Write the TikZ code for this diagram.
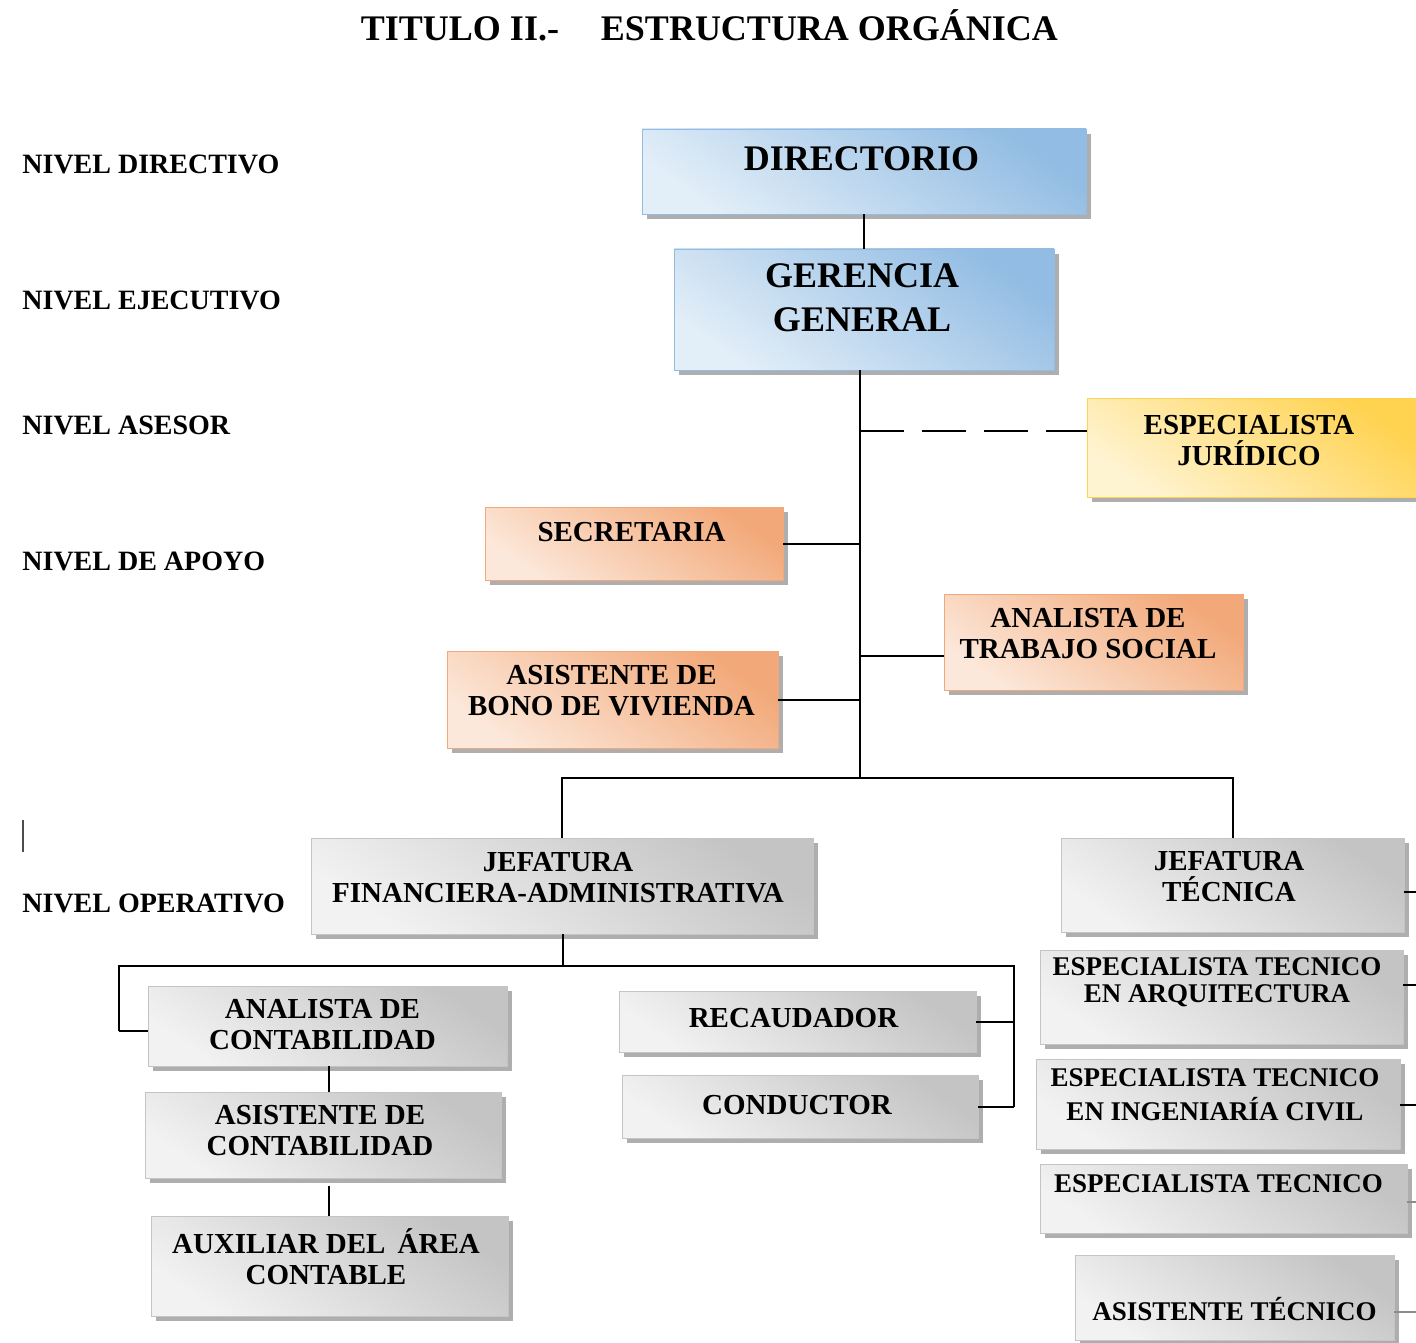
\documentclass[tikz,border=0pt]{standalone}
\usepackage{fontspec}
\setmainfont{Liberation Serif}
\usetikzlibrary{shadows}
\definecolor{bluD}{HTML}{92BCE3}
\definecolor{bluL}{HTML}{E2EEF8}
\definecolor{yelD}{HTML}{FFD24F}
\definecolor{yelL}{HTML}{FFF4D2}
\definecolor{oraD}{HTML}{F2A878}
\definecolor{oraL}{HTML}{FCE8DA}
\definecolor{gryD}{HTML}{C4C4C4}
\definecolor{gryL}{HTML}{F2F2F2}
\definecolor{shd}{HTML}{9A9A9A}
\tikzset{
  sz/.style 2 args={minimum width=#1*0.5pt, minimum height=#2*0.5pt},
  orgbox/.style={rectangle, inner sep=0pt, line width=0.4pt,
    drop shadow={shadow xshift=2.5pt, shadow yshift=-2.5pt, fill=shd, opacity=0.8}},
  bluebox/.style={orgbox, draw=bluD, top color=bluD, bottom color=bluL, shading angle=-35},
  yelbox/.style={orgbox, draw=yelD, top color=yelD, bottom color=yelL, shading angle=-35},
  orabox/.style={orgbox, draw=oraD, top color=oraD, bottom color=oraL, shading angle=-35},
  grybox/.style={orgbox, draw=gryD, top color=gryD, bottom color=gryL, shading angle=-35},
  txt/.style={inner sep=0pt, align=center, font=\bfseries\fontsize{14.5}{15.5}\selectfont},
  bigtxt/.style={inner sep=0pt, align=center, font=\bfseries\fontsize{18}{22}\selectfont},
  rtxt/.style={inner sep=0pt, align=center, font=\bfseries\fontsize{13.5}{14}\selectfont},
  lvl/.style={inner sep=0pt, anchor=west, font=\bfseries\fontsize{14}{16}\selectfont},
  conn/.style={line width=1pt, black},
  stub/.style={line width=1pt, black!45},
}
\begin{document}
\begin{tikzpicture}[x=0.5pt, y=-0.5pt]
\useasboundingbox (0,0) rectangle (1416,1342);
\clip (0,0) rectangle (1416,1342);
\fill[white] (0,0) rectangle (1416,1342);

% title
\node[bigtxt] (title) at (709.5,25) {TITULO II.-\hspace{21pt}ESTRUCTURA ORGÁNICA};

% level labels
\node[lvl] (l1) at (22,164) {NIVEL DIRECTIVO};
\node[lvl] (l2) at (22,300) {NIVEL EJECUTIVO};
\node[lvl] (l3) at (22,425) {NIVEL ASESOR};
\node[lvl] (l4) at (22,561) {NIVEL DE APOYO};
\node[lvl] (l5) at (22,903) {NIVEL OPERATIVO};
\coordinate (cur1) at (23,820);
\coordinate (cur2) at (23,852);
\draw[line width=0.8pt, black!70] (cur1) -- (cur2);

% boxes
\node[bluebox, sz={444}{85}]  (dir) at (864,171.5) {};
\node[bluebox, sz={380}{121}] (ger) at (864,309.5) {};
\node[yelbox, sz={335}{99}]   (jur) at (1254.5,447.5) {};
\node[orabox, sz={298}{73}]   (sec) at (634,543.5) {};
\node[orabox, sz={299}{96}]   (ats) at (1093.5,642) {};
\node[orabox, sz={331}{97}]   (abv) at (612.5,699.5) {};
\node[grybox, sz={502}{96}]   (jfa) at (562,886) {};
\node[grybox, sz={343}{94}]   (jt)  at (1232.5,885) {};
\node[grybox, sz={359}{80}]   (anc) at (327.5,1026) {};
\node[grybox, sz={356}{86}]   (asc) at (323,1135) {};
\node[grybox, sz={357}{100}]  (aux) at (329.5,1266) {};
\node[grybox, sz={357}{61}]   (rec) at (797.5,1021.5) {};
\node[grybox, sz={356}{63}]   (con) at (800,1106.5) {};
\node[grybox, sz={363}{94}]   (arq) at (1221.5,997) {};
\node[grybox, sz={364}{90}]   (ing) at (1218,1104) {};
\node[grybox, sz={367}{69}]   (esp) at (1223.5,1198.5) {};
\node[grybox, sz={319}{85}]   (ast) at (1234.5,1297.5) {};

% box texts
\node[bigtxt] (dirT) at (861.5,159) {DIRECTORIO};
\node[bigtxt] (gerT) at (862,298) {GERENCIA\\GENERAL};
\node[txt] (jurT) at (1249,441) {ESPECIALISTA\\JURÍDICO};
\node[txt] (secT) at (631.5,532) {SECRETARIA};
\node[txt] (atsT) at (1088,633.5) {ANALISTA DE\\TRABAJO SOCIAL};
\node[txt] (abvT) at (611.5,691) {ASISTENTE DE\\BONO DE VIVIENDA};
\node[txt] (jfaT) at (558,877.5) {JEFATURA\\FINANCIERA-ADMINISTRATIVA};
\node[txt] (jtT)  at (1229,877) {JEFATURA\\TÉCNICA};
\node[txt] (ancT) at (322.5,1025) {ANALISTA DE\\CONTABILIDAD};
\node[txt] (ascT) at (320,1131) {ASISTENTE DE\\CONTABILIDAD};
\node[txt] (auxT) at (326,1257) {AUXILIAR DEL \,ÁREA\\CONTABLE};
\node[txt] (recT) at (793.5,1018) {RECAUDADOR};
\node[txt] (conT) at (797,1105) {CONDUCTOR};
\node[rtxt, font=\bfseries\fontsize{13.5}{13.5}\selectfont] (arqT) at (1217,982.5) {ESPECIALISTA TECNICO\\EN ARQUITECTURA};
\node[rtxt, font=\bfseries\fontsize{13.5}{17}\selectfont] (ingT) at (1215,1095) {ESPECIALISTA TECNICO\\EN INGENIARÍA CIVIL};
\node[rtxt] (espT) at (1218.5,1184) {ESPECIALISTA TECNICO};
\node[rtxt] (astT) at (1234.5,1309) {ASISTENTE TÉCNICO};

% connectors
\coordinate (trunk) at (860,778);
\coordinate (jdash) at (860,431);
\coordinate (atsy) at (860,656);
\coordinate (bar2) at (563,966);
\coordinate (bl) at (119,966);
\coordinate (br) at (1014,966);
\coordinate (ancy) at (119,1031);
\coordinate (edge) at (1416,0);

\draw[conn] (dir.south) -- (ger.north);
\draw[conn] (ger.south -| trunk) -- (trunk);
\draw[conn, dash pattern=on 22pt off 9pt] (jdash) -- (jur.west |- jdash);
\draw[conn] (sec.east) -- (sec.east -| trunk);
\draw[conn] (abv.east) -- (abv.east -| trunk);
\draw[conn] (atsy) -- (ats.west |- atsy);
\draw[conn] (jfa.north) -- (jfa.north |- trunk) -- (jt.north |- trunk) -- (jt.north);
\draw[conn] (jfa.south -| bar2) -- (bar2);
\draw[conn] (ancy) -- (bl) -- (br) -- (br |- con.east);
\draw[conn] (ancy) -- (anc.west |- ancy);
\draw[conn] (rec.east) -- (rec.east -| br);
\draw[conn] (con.east) -- (con.east -| br);
\draw[conn] (anc.south -| 329,0) -- (asc.north -| 329,0);
\draw[conn] (329,1186) -- (aux.north -| 329,0);

% stubs leaving the right edge
\coordinate (s1) at (1416,892);
\coordinate (s2) at (1416,985);
\coordinate (s3) at (1416,1105);
\coordinate (s4) at (1416,1202);
\coordinate (s5) at (1416,1312);
\draw[conn] (jt.east |- s1) -- (s1);
\draw[conn] (arq.east |- s2) -- (s2);
\draw[conn] (ing.east |- s3) -- (s3);
\draw[stub] (esp.east |- s4) -- (s4);
\draw[stub] (ast.east |- s5) -- (s5);
\end{tikzpicture}
\end{document}
